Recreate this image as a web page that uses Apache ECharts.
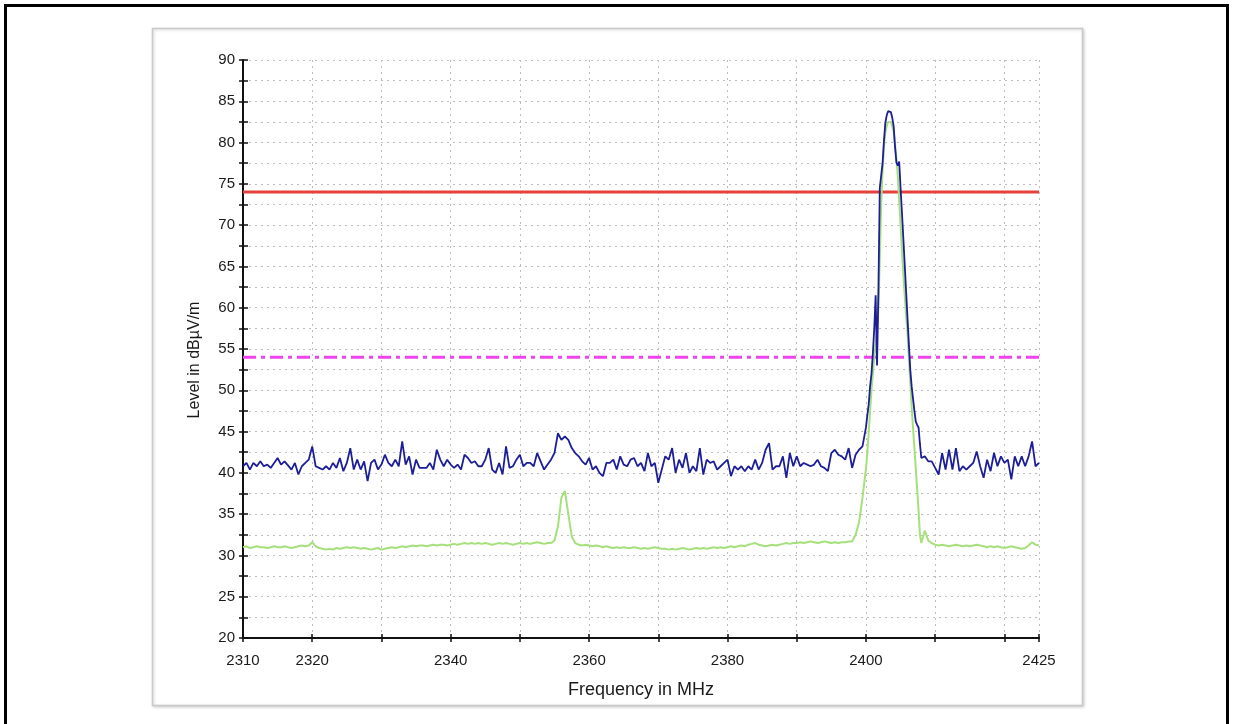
<!DOCTYPE html>
<html>
<head>
<meta charset="utf-8">
<script src="https://cdn.jsdelivr.net/npm/echarts@6/dist/echarts.min.js"></script>
<style>
  html, body { margin: 0; padding: 0; background: #ffffff; }
  #chart { width: 1233px; height: 724px; }
</style>
</head>
<body>
<div id="chart"></div>
<script>
// Sweep layout: 0.5 MHz bins below and above the carrier, finer bins across it
const sweepStart = 2310;
const sweepStep = 0.5;
const tailStart = 2408.5;
const peakFreqs = [
  2400.0, 2400.2, 2400.4, 2400.6, 2400.8, 2401.0, 2401.2, 2401.4, 2401.6, 2401.8,
  2402.0, 2402.2, 2402.4, 2402.6, 2402.8, 2403.0, 2403.2, 2403.4, 2403.6, 2403.8,
  2404.0, 2404.2, 2404.4, 2404.6, 2404.8, 2405.0, 2405.2, 2405.4, 2405.6, 2405.8,
  2406.0, 2406.2, 2406.4, 2406.6, 2406.8, 2407.0, 2407.2, 2407.4, 2407.6, 2407.8,
  2408.0
];

// Peak detector trace (dBµV/m)
const peakLow = [
  40.8, 41.2, 40.4, 41.2, 40.8, 41.4, 40.8, 41.0, 40.6, 41.2, 41.8, 41.0, 41.4, 40.9, 40.4, 41.2, 39.8, 40.8, 41.2, 41.6,
  43.2, 40.8, 40.6, 40.4, 40.8, 40.4, 41.2, 40.6, 41.8, 40.2, 41.2, 43.0, 40.4, 41.6, 40.4, 41.4, 39.0, 41.2, 41.6, 40.4,
  41.0, 42.2, 41.2, 40.8, 41.6, 40.8, 43.8, 41.0, 42.0, 39.8, 41.6, 40.6, 40.6, 40.6, 41.2, 40.4, 42.8, 41.6, 40.8, 41.6,
  41.0, 40.6, 41.0, 40.4, 42.2, 41.8, 41.2, 41.4, 40.8, 40.8, 41.6, 43.0, 40.4, 40.0, 41.2, 39.8, 43.2, 40.6, 40.8, 41.6,
  42.2, 40.8, 41.2, 41.2, 40.8, 42.4, 41.4, 40.4, 41.0, 41.6, 42.4, 44.8, 44.0, 44.4, 44.0, 43.0, 42.4, 42.0, 41.4, 41.0,
  41.8, 40.4, 40.8, 40.0, 39.6, 41.2, 41.2, 41.6, 40.4, 42.0, 41.0, 40.8, 41.6, 41.8, 40.8, 41.2, 40.2, 42.4, 40.8, 41.2,
  38.8, 40.4, 42.0, 41.6, 43.0, 40.0, 41.6, 40.6, 42.4, 40.0, 40.8, 40.2, 43.0, 39.8, 41.6, 41.2, 41.4, 40.4, 40.8, 41.2,
  41.6, 39.6, 40.8, 40.4, 40.8, 40.2, 40.8, 40.4, 41.6, 40.4, 41.2, 42.8, 43.6, 40.4, 40.8, 40.8, 42.0, 39.4, 42.4, 40.8,
  42.0, 40.8, 41.2, 41.0, 40.8, 41.0, 41.6, 40.8, 40.6, 40.2, 42.4, 42.8, 42.2, 42.0, 41.6, 43.0, 40.6, 42.2, 42.8, 43.2
];
const peakCarrier = [
  45.5, 47.0, 48.3, 50.5, 52.0, 54.5, 57.5, 61.5, 53.0, 62.0,
  74.5, 76.0, 77.5, 80.2, 82.4, 83.3, 83.8, 83.9, 83.7, 83.0,
  82.0, 79.5, 77.6, 77.2, 77.7, 74.5, 71.5, 68.4, 65.2, 62.0,
  58.8, 55.6, 52.5, 50.5, 49.0, 47.5, 46.2, 45.8, 45.5, 43.5,
  41.8
];
const peakTail = [
  42.0, 41.4, 41.4, 40.6, 39.8, 42.4, 40.4, 42.8, 40.4, 43.0, 40.2, 40.8, 40.4, 40.8, 41.2, 42.6, 40.8,
  39.4, 41.6, 40.2, 42.4, 40.8, 42.0, 41.2, 41.6, 39.2, 42.0, 40.8, 42.0, 40.8, 42.0, 43.8, 40.8, 41.2
];

// Average detector trace (dBµV/m)
const avgLow = [
  31.0, 31.1, 30.9, 31.0, 31.1, 31.0, 31.0, 30.9, 31.0, 31.1, 31.0, 31.0, 31.1, 31.0, 30.9, 31.0, 31.1, 31.2, 31.1, 31.2,
  31.6, 31.1, 30.9, 30.8, 30.7, 30.8, 30.7, 30.9, 30.8, 30.9, 31.0, 30.9, 31.0, 30.9, 30.8, 30.9, 30.8, 30.7, 30.8, 30.9,
  30.7, 30.8, 30.9, 31.0, 30.9, 31.0, 31.1, 31.0, 31.1, 31.2, 31.1, 31.2, 31.2, 31.1, 31.2, 31.3, 31.2, 31.3, 31.3, 31.2,
  31.3, 31.4, 31.3, 31.4, 31.5, 31.4, 31.5, 31.4, 31.5, 31.4, 31.5, 31.4, 31.3, 31.4, 31.5, 31.4, 31.5, 31.4, 31.3, 31.4,
  31.5, 31.4, 31.5, 31.4, 31.5, 31.6, 31.5, 31.4, 31.5, 31.5, 31.8, 33.5, 37.0, 37.8, 35.0, 32.3, 31.5, 31.3, 31.2, 31.3,
  31.2, 31.1, 31.2, 31.1, 31.0, 31.1, 31.0, 30.9, 31.0, 30.9, 31.0, 30.9, 30.9, 31.0, 30.9, 30.8, 30.9, 30.8, 30.9, 31.0,
  30.9, 30.8, 30.8, 30.7, 30.8, 30.7, 30.8, 30.9, 30.8, 30.7, 30.8, 30.9, 30.8, 30.9, 30.8, 30.9, 31.0, 30.9, 31.0, 30.9,
  31.0, 31.1, 31.0, 31.1, 31.2, 31.1, 31.3, 31.4, 31.5, 31.3, 31.2, 31.1, 31.2, 31.3, 31.2, 31.3, 31.4, 31.5, 31.4, 31.5,
  31.5, 31.6, 31.5, 31.6, 31.7, 31.6, 31.5, 31.6, 31.7, 31.6, 31.5, 31.6, 31.5, 31.6, 31.6, 31.7, 31.7, 32.5, 34.0, 37.0
];
const avgCarrier = [
  40.5, 42.5, 45.0, 47.5, 50.0, 52.0, 54.0, 55.5, 57.0, 60.0,
  66.0, 72.5, 76.5, 79.5, 81.2, 82.0, 82.5, 82.7, 82.5, 82.0,
  81.3, 79.8, 78.0, 76.0, 73.0, 70.0, 67.0, 64.0, 61.5, 59.0,
  57.0, 54.0, 51.0, 48.0, 45.5, 43.0, 40.5, 38.0, 35.5, 32.5,
  31.5
];
const avgTail = [
  33.0, 31.8, 31.5, 31.3, 31.2, 31.3, 31.2, 31.1, 31.2, 31.3, 31.2, 31.1, 31.2, 31.1, 31.2, 31.3, 31.2,
  31.1, 31.0, 31.1, 31.0, 31.1, 31.0, 30.9, 31.0, 31.1, 31.0, 30.9, 30.8, 30.9, 31.2, 31.6, 31.3, 31.2
];

// Limit lines (dBµV/m)
const peakLimit = 74;
const avgLimit = 54;

// Frequency ticks that carry a label
const freqLabels = [2310, 2320, 2340, 2360, 2380, 2400, 2425];
const freqMin = 2310, freqMax = 2425, freqTick = 10;
const levelMin = 20, levelMax = 90, levelTick = 2.5, levelLabelEvery = 5;

function buildTrace(low, carrier, tail) {
  const pts = [];
  low.forEach((v, i) => pts.push([sweepStart + i * sweepStep, v]));
  carrier.forEach((v, i) => pts.push([peakFreqs[i], v]));
  tail.forEach((v, i) => pts.push([tailStart + i * sweepStep, v]));
  return pts;
}

const FONT = "'Liberation Sans', Arial, Helvetica, sans-serif";
const chart = echarts.init(document.getElementById('chart'), null, { renderer: 'canvas' });

const gridLine = { show: true, lineStyle: { color: '#bdbdbd', width: 1, type: [2, 4] } };
const axisLine = { show: true, onZero: false, lineStyle: { color: '#111', width: 2 } };

chart.setOption({
  animation: false,
  backgroundColor: '#ffffff',
  graphic: [
    { type: 'rect', shape: { x: 5.5, y: 5.5, width: 1222, height: 760 },
      style: { fill: 'none', stroke: '#000', lineWidth: 3 }, z: 0, silent: true },
    { type: 'rect', shape: { x: 152.5, y: 28.5, width: 930, height: 677 },
      style: { fill: '#fff', stroke: '#c9c9c9', lineWidth: 1.5,
               shadowBlur: 3, shadowColor: 'rgba(0,0,0,0.18)', shadowOffsetX: 1, shadowOffsetY: 1 },
      z: -10, silent: true }
  ],
  grid: { left: 243, top: 60, right: 194, bottom: 86, containLabel: false },
  xAxis: [
    {
      type: 'value', min: freqMin, max: freqMax, interval: freqTick,
      position: 'bottom',
      name: 'Frequency in MHz', nameLocation: 'middle', nameGap: 43,
      nameTextStyle: { fontFamily: FONT, fontSize: 18, color: '#1a1a1a' },
      axisLine: axisLine,
      axisTick: { show: true, inside: false, length: 4, lineStyle: { color: '#111', width: 1.5 } },
      axisLabel: {
        show: true, margin: 15, fontFamily: FONT, fontSize: 15, color: '#1a1a1a',
        showMinLabel: true, showMaxLabel: true,
        formatter: v => (freqLabels.indexOf(Math.round(v)) >= 0 ? String(Math.round(v)) : '')
      },
      splitLine: gridLine
    },
    {
      type: 'value', min: freqMin, max: freqMax, interval: freqTick,
      position: 'bottom', offset: 0,
      axisLine: { show: false },
      axisTick: { show: true, inside: true, length: 4, lineStyle: { color: '#111', width: 1.5 } },
      axisLabel: { show: false },
      splitLine: { show: false }
    }
  ],
  yAxis: [
    {
      type: 'value', min: levelMin, max: levelMax, interval: levelTick,
      position: 'left',
      name: 'Level in dBµV/m', nameLocation: 'middle', nameGap: 40,
      nameTextStyle: { fontFamily: FONT, fontSize: 16, color: '#1a1a1a', padding: [0, 22, 0, 0] },
      axisLine: axisLine,
      axisTick: { show: true, inside: false, length: 4, lineStyle: { color: '#111', width: 1.5 } },
      axisLabel: {
        show: true, margin: 8, fontFamily: FONT, fontSize: 15, color: '#1a1a1a',
        formatter: v => (Math.abs(v % levelLabelEvery) < 1e-6 ? String(v) : '')
      },
      splitLine: gridLine
    },
    {
      type: 'value', min: levelMin, max: levelMax, interval: levelTick,
      position: 'left', offset: 0,
      axisLine: { show: false },
      axisTick: { show: true, inside: true, length: 5, lineStyle: { color: '#111', width: 1.5 } },
      axisLabel: { show: false },
      splitLine: { show: false }
    }
  ],
  series: [
    {
      name: 'Peak limit', type: 'line', xAxisIndex: 0, yAxisIndex: 0,
      data: [[freqMin, peakLimit], [freqMax, peakLimit]],
      showSymbol: false, silent: true, z: 2,
      lineStyle: { color: '#e5403a', width: 3 }
    },
    {
      name: 'Average limit', type: 'line', xAxisIndex: 0, yAxisIndex: 0,
      data: [[freqMin, avgLimit], [freqMax, avgLimit]],
      showSymbol: false, silent: true, z: 2,
      lineStyle: { color: '#ee44ee', width: 3, type: [13, 5, 4, 5] }
    },
    {
      name: 'Average', type: 'line', xAxisIndex: 0, yAxisIndex: 0,
      data: buildTrace(avgLow, avgCarrier, avgTail),
      showSymbol: false, silent: true, z: 3,
      lineStyle: { color: '#a6e07c', width: 2 }
    },
    {
      name: 'Peak', type: 'line', xAxisIndex: 0, yAxisIndex: 0,
      data: buildTrace(peakLow, peakCarrier, peakTail),
      showSymbol: false, silent: true, z: 4,
      lineStyle: { color: '#1c1e98', width: 1.8 }
    }
  ]
});
</script>
</body>
</html>
